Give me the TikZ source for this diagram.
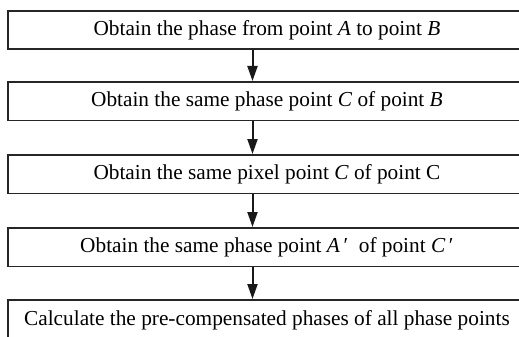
\documentclass[tikz,border=0pt]{standalone}
\usepackage{fontspec}
\setmainfont{Liberation Serif}
\usetikzlibrary{arrows.meta}
\begin{document}
\begin{tikzpicture}[x=1pt,y=-1pt,
  box/.style={draw=black!85, line width=1.9pt, minimum width=518pt, minimum height=38.5pt, inner sep=0pt, anchor=north west, font=\fontsize{21.3}{25}\selectfont},
  arr/.style={draw=black!90, line width=2pt, -{Triangle[length=15pt,width=10pt]}}]
\useasboundingbox (0,0) rectangle (519,337);
\clip (0,0) rectangle (519,337);
\fill[white] (0,0) rectangle (519,337);
\coordinate (ax) at (252.5,0);
\node[box] (b1) at (7,10) {Obtain the phase from point \textit{A} to point \textit{B}};
\node[box] (b2) at (7,81) {Obtain the same phase point \textit{C} of point \textit{B}};
\node[box] (b3) at (7,154) {Obtain the same pixel point \textit{C} of point C};
\node[box] (b4) at (7,227) {Obtain the same phase point \textit{A}\,′\ \ of point \textit{C}\,′};
\node[box, minimum height=40pt] (b5) at (7,299) {Calculate the pre-compensated phases of all phase points};
\draw[arr] (b1.south -| ax) -- (b2.north -| ax);
\draw[arr] (b2.south -| ax) -- (b3.north -| ax);
\draw[arr] (b3.south -| ax) -- (b4.north -| ax);
\draw[arr] (b4.south -| ax) -- (b5.north -| ax);
\end{tikzpicture}
\end{document}
